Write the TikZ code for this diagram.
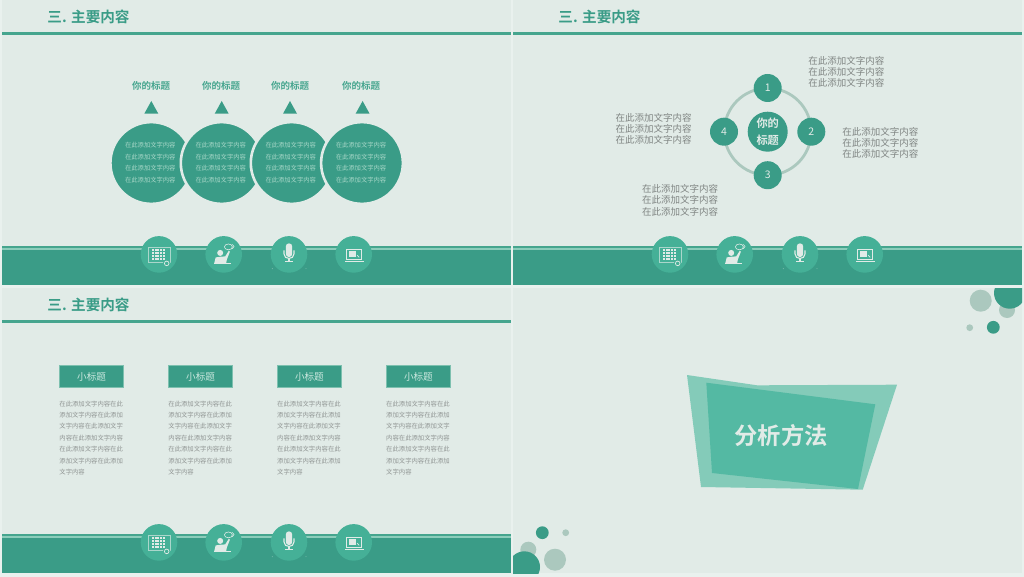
\documentclass[tikz,border=0pt]{standalone}
\usepackage{fontspec}
\setmainfont{Noto Sans CJK SC}
\newfontfamily\cjkb{Noto Sans CJK SC Bold}
\definecolor{pagebg}{HTML}{E9F1EE}
\definecolor{panel}{HTML}{E1EBE7}
\definecolor{teal}{HTML}{3A9C87}
\definecolor{midteal}{HTML}{45A58E}
\definecolor{lightline}{HTML}{8CCDBB}
\definecolor{iconbg}{HTML}{45B097}
\definecolor{soft}{HTML}{ABC8BE}
\definecolor{greytxt}{HTML}{808583}
\definecolor{paletxt}{HTML}{A9D8C9}
\definecolor{polyA}{HTML}{84CBB9}
\definecolor{polyB}{HTML}{54B9A3}
\tikzset{
  x=1pt,y=-1pt,
  every node/.style={inner sep=0pt,outer sep=0pt},
  sect/.style={font=\cjkb\fontsize{14.6}{14.6}\selectfont,text=teal,anchor=west},
  headt/.style={font=\cjkb\fontsize{9.5}{9.5}\selectfont,text=midteal},
  circt/.style={font=\fontsize{6.3}{6.3}\selectfont,text=paletxt},
  sidet/.style={font=\fontsize{9.5}{9.5}\selectfont,text=greytxt,anchor=west},
  smallt/.style={font=\fontsize{6.35}{6.35}\selectfont,text=greytxt!85!panel,anchor=west},
  boxt/.style={fill=teal,draw=paletxt!60!teal,line width=.4pt,minimum width=64pt,minimum height=21.6pt,font=\fontsize{9.6}{9.6}\selectfont,text=paletxt!60!white},
  numt/.style={circle,fill=teal,minimum size=28pt,text=panel,font=\fontsize{10.5}{10.5}\selectfont},
  icl/.style={draw=panel,line width=.6pt,fill=none}
}
\newcommand{\chrome}[3]{% offset x, offset y, id
 \begin{scope}[shift={(#1,#2)}]
  \fill[panel] (0,0) rectangle (509,285);
  \node[sect] (title#3) at (45.4,17) {三. 主要内容};
  \fill[midteal] (0,32.3) rectangle (509,34.7);
  \fill[teal] (0,250) rectangle (509,285);
  \fill[midteal] (0,246) rectangle (509,247.6);
  \fill[lightline] (0,247.6) rectangle (509,249.8);
  \fill[teal] (0,249.8) rectangle (509,251);
  \node[circle,fill=iconbg,minimum size=36.6pt] (ica#3) at (157,254.4) {};
  \node[circle,fill=iconbg,minimum size=36.6pt] (icb#3) at (221.7,254.4) {};
  \node[circle,fill=iconbg,minimum size=36.6pt] (icc#3) at (287,254.4) {};
  \node[circle,fill=iconbg,minimum size=36.6pt] (icd#3) at (351.7,254.4) {};
  % keypad
  \begin{scope}[shift={(157,254.4)}]
   \draw[draw=panel!65!iconbg,line width=.4pt] (-11,-7.3) rectangle (11,7.8);
   \foreach \r in {0,1,2,3}{\foreach \c in {0,1,2,3,4}{
     \fill[panel] (-7+\c*2.7,-5+\r*2.85) rectangle ++(1.9,2);}}
   \fill[iconbg] (7.7,8.4) circle (3.6);
   \draw[panel,line width=.7pt] (7.7,9) circle (2.3);
  \end{scope}
  % speaker with bubble
  \begin{scope}[shift={(221.7,254.4)}]
   \fill[panel] (-3.5,-1.5) circle (3);
   \fill[panel] (-9.5,9) -- (-8,3) -- (-3,2.3) -- (1.5,2) -- (5,-3.5) -- (6.2,-2.8) -- (3.2,5) -- (2.4,9) -- cycle;
   \draw[panel,line width=.5pt] (-9.8,9.3) -- (7,9.3);
   \draw[icl] (4.7,-7.5) ellipse (4 and 2.9);
   \draw[icl] (8.5,-10) .. controls (11,-9.5) and (11,-6.5) .. (8.6,-5.6);
  \end{scope}
  % microphone
  \begin{scope}[shift={(287,254.4)}]
   \fill[panel,rounded corners=3pt] (-3.2,-11) rectangle (3.2,2.6);
   \draw[panel,line width=1.1pt] (-5,-4) -- (-5,-.5) .. controls (-5,5.6) and (5,5.6) .. (5,-.5) -- (5,-4);
   \fill[panel] (-.8,3.5) rectangle (.8,6.5);
   \fill[panel] (-3.7,6.3) rectangle (3.7,7.7);
   \fill[panel!70!iconbg] (-16.7,14.3) circle (.4) (17,14.3) circle (.4);
  \end{scope}
  % laptop
  \begin{scope}[shift={(351.7,254.4)}]
   \draw[panel,line width=.9pt] (-7,5.3) -- (-7,-5) -- (8,-5) -- (8,5.3) -- cycle;
   \fill[panel] (-5,-3) rectangle (2,2.5);
   \draw[panel,line width=.7pt] (3.4,.8) -- (5.5,2.9);
   \fill[panel] (-9,6.3) rectangle (10,8);
  \end{scope}
 \end{scope}}
\begin{document}
\begin{tikzpicture}
\useasboundingbox (0,0) rectangle (1024,577);
\fill[pagebg] (0,0) rectangle (1024,577);
\chrome{2}{0}{p}
\chrome{513}{0}{q}
\chrome{2}{288}{r}
% Panel 1
\foreach \n/\cx/\tx/\tri in {a/151.3/151/151.3,b/221.7/221/221.7,c/291.7/290/290,d/362/361/362.6}{
  \node[headt] (head\n) at (\tx,86.3) {你的标题};
  \fill[teal] (\tri,101) -- (\tri+7,113.7) -- (\tri-7,113.7) -- cycle;
  \node[circle,fill=teal,draw=panel,line width=2.6pt,minimum size=81.8pt] (ball\n) at (\cx,163) {};
  \foreach \yy/\m in {145.4/1,156.8/2,168.2/3,179.8/4}{
    \node[circt] (t\n\m) at (\cx-1,\yy) {在此添加文字内容};}
}
% Panel 2
\coordinate (hub) at (767.7,131.7);
\draw[soft,line width=2.8pt] (hub) circle (43.5);
\node[circle,fill=teal,minimum size=40pt,text=panel,align=center,font=\cjkb\fontsize{11.2}{16.2}\selectfont] (hubn) at (hub) {你的\\标题};
\node[numt] (n1) at (767.7,88) {1};
\node[numt] (n2) at (811.3,131.7) {2};
\node[numt] (n3) at (767.7,175.2) {3};
\node[numt] (n4) at (724,131.7) {4};
\foreach \id/\xx/\ya/\yb/\yc in {u/808.3/60.7/72/83.3,v/842.3/131.7/142.8/154,w/615.7/118/129/140.3,z/642/189/200.3/211.7}{
  \node[sidet] (\id1) at (\xx,\ya) {在此添加文字内容};
  \node[sidet] (\id2) at (\xx,\yb) {在此添加文字内容};
  \node[sidet] (\id3) at (\xx,\yc) {在此添加文字内容};
}
% Panel 3
\foreach \id/\xx in {a/59.4,b/168.4,c/277.2,d/386.2}{
  \node[boxt,anchor=north west] (box\id) at (\xx+.2,365.6) {小标题};
  \node[smallt] (s\id1) at (\xx,403.6) {在此添加文字内容在此};
  \node[smallt] (s\id2) at (\xx,415) {添加文字内容在此添加};
  \node[smallt] (s\id3) at (\xx,426.3) {文字内容在此添加文字};
  \node[smallt] (s\id4) at (\xx,437.9) {内容在此添加文字内容};
  \node[smallt] (s\id5) at (\xx,449.3) {在此添加文字内容在此};
  \node[smallt] (s\id6) at (\xx,460.9) {添加文字内容在此添加};
  \node[smallt] (s\id7) at (\xx,472) {文字内容};
}
% Panel 4
\fill[panel] (513,288) rectangle (1022,573);
\begin{scope}
 \clip (513,288) rectangle (1022,573);
 \fill[soft] (980.7,300.7) circle (11);
 \fill[soft] (1007,310) circle (8);
 \fill[teal] (1009.7,293) circle (15.7);
 \fill[teal] (993.3,327.3) circle (6.4);
 \fill[soft] (969.7,327.7) circle (3.4);
 \fill[teal] (542.3,532.7) circle (6.4);
 \fill[soft] (565.7,532.7) circle (3.4);
 \fill[soft] (528.3,549.7) circle (8);
 \fill[soft] (555,559.7) circle (11);
 \fill[teal] (524.3,567) circle (15.7);
\end{scope}
\fill[polyA] (687,375) -- (757,385.3) -- (897,384.7) -- (862.7,489.7) -- (701,487) -- cycle;
\fill[polyB] (706.3,382.7) -- (875.3,404.3) -- (858,489) -- (712,473) -- cycle;
\node[font=\cjkb\fontsize{23.3}{23.3}\selectfont,text=panel] (bigt) at (781,435.7) {分析方法};
\end{tikzpicture}
\end{document}
